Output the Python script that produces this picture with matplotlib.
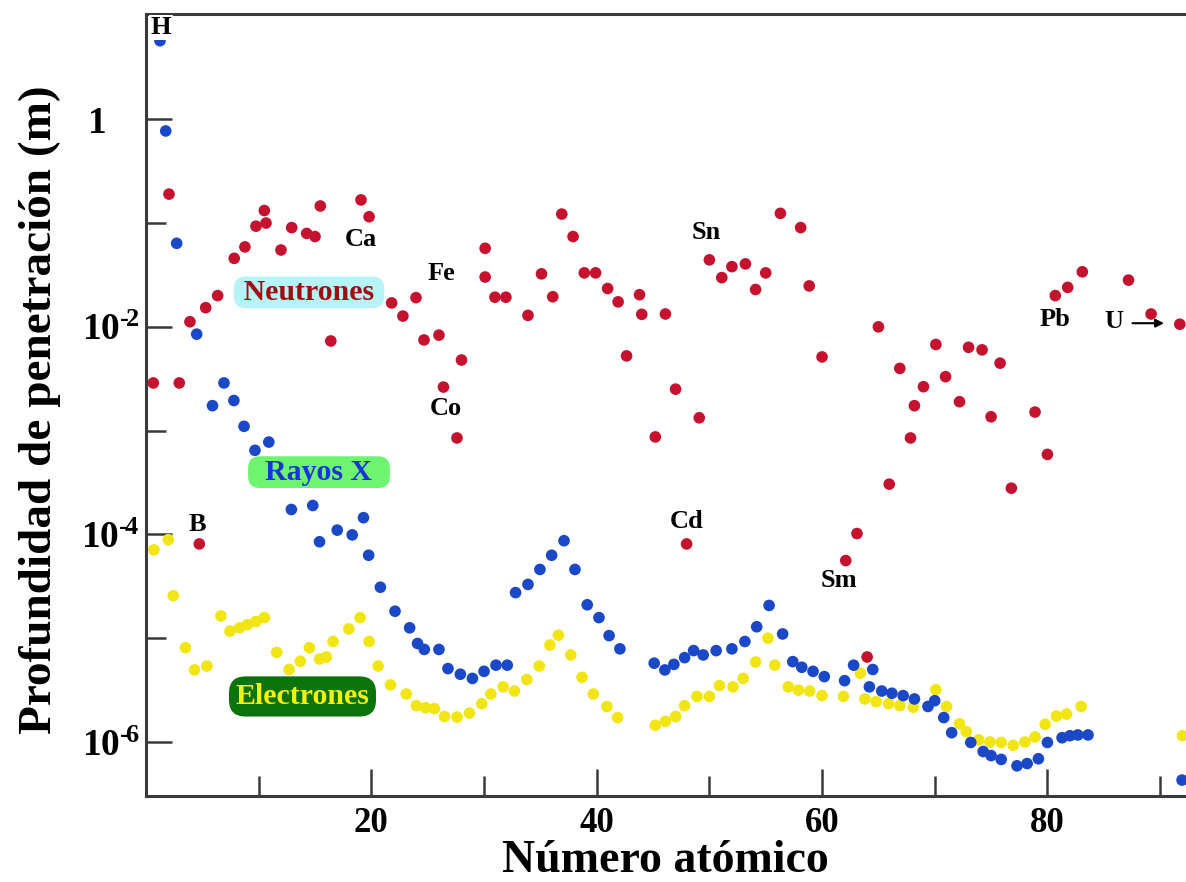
import matplotlib
matplotlib.use("Agg")
import matplotlib.pyplot as plt
from matplotlib.ticker import FixedLocator, NullFormatter
from matplotlib.transforms import ScaledTranslation

plt.rcParams['font.family'] = ['Liberation Serif', 'DejaVu Serif']
plt.rcParams['mathtext.fontset'] = 'custom'
plt.rcParams['mathtext.rm'] = 'Liberation Serif:bold'
plt.rcParams['mathtext.bf'] = 'Liberation Serif:bold'
plt.rcParams['mathtext.it'] = 'Liberation Serif:bold:italic'

# --- Neutrons: atomic number vs penetration depth (m)
neutron_z = [0.65, 2.04, 2.95, 3.9, 4.73, 5.3, 6.36, 7.83, 8.78, 9.76, 10.5, 10.65,
             11.98, 12.93, 14.26, 15.0, 15.47, 16.4, 19.08, 19.8, 21.8, 22.8, 23.96,
             24.67, 26.0, 26.4, 27.6, 28.0, 30.1, 30.1, 30.97, 31.94, 33.9, 35.1,
             36.1, 36.9, 37.9, 38.9, 39.9, 40.97, 41.9, 42.65, 43.8, 44.0, 45.2,
             46.1, 47.0, 47.98, 49.1, 50.0, 51.1, 52.0, 53.2, 54.1, 55.0, 56.3,
             58.1, 58.86, 60.0, 62.1, 63.1, 64.0, 65.0, 65.96, 66.9, 67.85, 68.2,
             69.0, 70.1, 70.96, 72.2, 73.0, 74.2, 75.0, 75.8, 76.8, 78.9, 80.0,
             80.7, 81.8, 83.1, 87.2, 89.2, 91.75]
neutron_depth = [2.88e-3, 0.19, 2.88e-3, 0.0112, 8.1e-5, 0.0153, 0.020, 0.0457,
                 0.0589, 0.0933, 0.132, 0.100, 0.055, 0.0904, 0.0794, 0.0741, 0.146,
                 7.31e-3, 0.167, 0.115, 0.0170, 0.0127, 0.0191, 7.48e-3, 8.32e-3,
                 2.63e-3, 8.5e-4, 4.79e-3, 0.0571, 0.0302, 0.0193, 0.0193, 0.0129,
                 0.0324, 0.0195, 0.122, 0.0741, 0.0331, 0.0331, 0.0234, 0.0174,
                 5.25e-3, 0.0204, 0.0132, 8.7e-4, 0.0133, 2.51e-3, 8.1e-5, 1.33e-3,
                 0.0442, 0.0298, 0.038, 0.0404, 0.0229, 0.0331, 0.124, 0.0904,
                 0.0248, 5.13e-3, 5.6e-5, 1.02e-4, 6.6e-6, 0.010, 3.05e-4, 3.98e-3,
                 8.5e-4, 1.74e-3, 2.65e-3, 6.76e-3, 3.31e-3, 1.9e-3, 6.35e-3, 6.0e-3,
                 1.36e-3, 4.47e-3, 2.79e-4, 1.51e-3, 5.9e-4, 0.020, 0.024, 0.0339,
                 0.0282, 0.0133, 0.0106]

# --- X-rays
xray_z = [1.24, 1.75, 2.72, 4.5, 5.9, 6.92, 7.8, 8.7, 9.67, 10.9, 12.9, 14.8, 15.4,
          16.97, 18.3, 19.3, 19.76, 20.8, 22.1, 23.4, 24.1, 24.7, 26.0, 26.8, 27.9,
          28.97, 30.0, 31.06, 32.06, 32.8, 33.9, 34.96, 36.0, 37.1, 38.07, 39.16,
          40.2, 41.1, 42.06, 45.1, 46.05, 46.85, 47.8, 48.6, 49.45, 50.6, 52.0,
          53.15, 54.2, 55.3, 56.5, 57.4, 58.2, 59.2, 60.2, 62.0, 62.8, 64.2, 64.5,
          65.3, 66.2, 67.2, 68.2, 69.4, 70.0, 70.8, 71.5, 73.2, 74.3, 75.0, 75.9,
          77.3, 78.2, 79.2, 80.0, 81.3, 82.0, 82.7, 83.6, 91.95]
xray_depth = [5.71, 0.771, 0.0638, 8.5e-3, 1.74e-3, 2.88e-3, 1.95e-3, 1.10e-3,
              6.46e-4, 7.76e-4, 1.74e-4, 1.9e-4, 8.5e-5, 1.1e-4, 9.9e-5, 1.45e-4,
              6.3e-5, 3.1e-5, 1.82e-5, 1.26e-5, 8.9e-6, 7.8e-6, 7.8e-6, 5.1e-6,
              4.5e-6, 4.1e-6, 4.8e-6, 5.5e-6, 5.5e-6, 2.75e-5, 3.3e-5, 4.6e-5,
              6.3e-5, 8.7e-5, 4.6e-5, 2.1e-5, 1.58e-5, 1.06e-5, 7.9e-6, 5.75e-6,
              4.95e-6, 5.6e-6, 6.5e-6, 7.6e-6, 6.9e-6, 7.6e-6, 7.9e-6, 9.3e-6,
              1.29e-5, 2.07e-5, 1.1e-5, 5.95e-6, 5.25e-6, 4.8e-6, 4.27e-6, 3.9e-6,
              5.5e-6, 3.4e-6, 5.0e-6, 3.1e-6, 2.95e-6, 2.8e-6, 2.6e-6, 2.2e-6,
              2.5e-6, 1.72e-6, 1.23e-6, 9.9e-7, 8.1e-7, 7.4e-7, 6.8e-7, 5.9e-7,
              6.2e-7, 6.9e-7, 9.9e-7, 1.1e-6, 1.15e-6, 1.17e-6, 1.17e-6, 4.3e-7]

# --- Electrons
electron_z = [0.7, 1.98, 2.42, 3.5, 4.3, 5.4, 6.65, 7.45, 8.3, 9.0, 9.76, 10.5,
              11.6, 12.7, 13.7, 14.5, 15.4, 16.0, 16.6, 18.0, 19.0, 19.8, 20.6,
              21.7, 23.1, 24.0, 24.8, 25.6, 26.5, 27.6, 28.7, 29.8, 30.6, 31.7,
              32.7, 33.8, 34.9, 35.85, 36.6, 37.7, 38.7, 39.7, 40.9, 41.85, 45.2,
              46.1, 47.0, 47.8, 48.9, 50.0, 50.9, 52.1, 53.0, 54.1, 55.2, 55.8,
              57.0, 57.9, 58.9, 60.0, 61.9, 63.4, 63.8, 64.8, 65.9, 66.9, 68.1,
              70.1, 71.05, 72.2, 72.8, 73.9, 74.9, 75.9, 76.96, 78.0, 78.9, 79.8,
              80.8, 81.7, 83.0, 91.99]
electron_depth = [7.1e-5, 8.9e-5, 2.57e-5, 8.1e-6, 4.95e-6, 5.4e-6, 1.64e-5,
                  1.17e-5, 1.26e-5, 1.35e-5, 1.45e-5, 1.58e-5, 7.3e-6, 5.0e-6,
                  6.0e-6, 8.1e-6, 6.3e-6, 6.6e-6, 9.3e-6, 1.23e-5, 1.58e-5, 9.3e-6,
                  5.4e-6, 3.55e-6, 2.9e-6, 2.24e-6, 2.14e-6, 2.1e-6, 1.76e-6,
                  1.74e-6, 1.9e-6, 2.34e-6, 2.9e-6, 3.4e-6, 3.1e-6, 4.0e-6, 5.4e-6,
                  8.6e-6, 1.07e-5, 6.9e-6, 4.2e-6, 2.9e-6, 2.2e-6, 1.72e-6, 1.45e-6,
                  1.58e-6, 1.76e-6, 2.24e-6, 2.75e-6, 2.75e-6, 3.5e-6, 3.4e-6,
                  4.1e-6, 5.9e-6, 1.0e-5, 5.5e-6, 3.4e-6, 3.16e-6, 3.1e-6, 2.8e-6,
                  2.75e-6, 4.6e-6, 2.6e-6, 2.45e-6, 2.34e-6, 2.24e-6, 2.16e-6,
                  3.2e-6, 2.2e-6, 1.5e-6, 1.26e-6, 1.05e-6, 1.0e-6, 9.9e-7, 9.3e-7,
                  1.0e-6, 1.12e-6, 1.48e-6, 1.78e-6, 1.86e-6, 2.2e-6, 1.15e-6]

# --- Element annotations (symbol, Z position, baseline depth)
element_labels = ['H', 'Ca', 'Fe', 'Co', 'B', 'Cd', 'Sn', 'Sm', 'Pb', 'U']
element_z = [1.33, 19.08, 26.2, 26.6, 4.6, 47.96, 49.7, 61.46, 80.7, 85.9]
element_depth = [6.64, 0.060, 0.0283, 1.40e-3, 1.09e-4, 1.15e-4, 0.0698, 3.10e-5,
                 0.0103, 9.7e-3]

x_ticks_major = [20, 40, 60, 80]
x_ticks_minor = [10, 30, 50, 70, 90]
y_ticks_major = [1, 1e-2, 1e-4, 1e-6]
y_tick_labels = ['1', '$10^{\u2010\\!2}$', '$10^{\u2010\\!4}$', '$10^{\u2010\\!6}$']
y_ticks_minor = [1e-1, 1e-3, 1e-5]

fig = plt.figure(figsize=(11.86, 8.82), dpi=100)
ax = fig.add_axes([146 / 1186, 1 - 796 / 882, 1 - 146 / 1186, (796 - 14) / 882])

ms = 70
ax.scatter(electron_z, electron_depth, s=ms, color='#f1e614', edgecolors='none', zorder=3)
ax.scatter(xray_z, xray_depth, s=ms, color='#1a48c6', edgecolors='none', zorder=4)
ax.scatter(neutron_z, neutron_depth, s=ms, color='#c5122f', edgecolors='none', zorder=5)

ax.set_yscale('log')
ax.set_xlim(0, 92.3)
ax.set_ylim(10 ** -6.52, 10 ** 1.014)

ax.xaxis.set_major_locator(FixedLocator(x_ticks_major))
ax.xaxis.set_minor_locator(FixedLocator(x_ticks_minor))
ax.xaxis.set_minor_formatter(NullFormatter())
ax.set_xticklabels([str(v) for v in x_ticks_major])
ax.yaxis.set_major_locator(FixedLocator(y_ticks_major))
ax.set_yticklabels(y_tick_labels)
ax.yaxis.set_minor_locator(FixedLocator(y_ticks_minor))
ax.yaxis.set_minor_formatter(NullFormatter())

spine_col = '#3a3a3a'
for side in ['left', 'bottom', 'top']:
    ax.spines[side].set_color(spine_col)
    ax.spines[side].set_linewidth(2.2)
ax.spines['right'].set_visible(False)

ax.tick_params(axis='both', which='both', direction='in', color=spine_col, width=1.8,
               top=False, right=False)
ax.tick_params(axis='x', which='major', length=19.5, pad=8, labelsize=25)
ax.tick_params(axis='x', which='minor', length=14.4)
ax.tick_params(axis='y', which='major', length=18.7, pad=5, labelsize=27)
ax.tick_params(axis='y', which='minor', length=14.4)
for lab in ax.get_xticklabels() + ax.get_yticklabels():
    lab.set_fontweight('bold')

# the plain "1" sits further left than the powers of ten
one_label = ax.get_yticklabels()[0]
one_label.set_transform(one_label.get_transform()
                        + ScaledTranslation(-0.32, 0, fig.dpi_scale_trans))

# element symbols
for sym, zx, dy in zip(element_labels, element_z, element_depth):
    ax.text(zx, dy, sym, fontsize=19, fontweight='bold', ha='center', va='baseline',
            zorder=6, bbox=dict(fc='white', ec='none', pad=1.0))
ax.annotate('', xy=(90.6, 0.01084), xytext=(87.3, 0.01084),
            arrowprops=dict(arrowstyle='-|>', color='black', lw=1.5, mutation_scale=12),
            zorder=6)

# series tags
ax.text(14.47, 10 ** -1.668, ' Neutrones ', fontsize=21.5, fontweight='bold',
        color='#a00d10', ha='center', va='center', zorder=7,
        bbox=dict(boxstyle='round,pad=0.08,rounding_size=0.4', fc='#b7f4f7', ec='none'))
ax.text(15.35, 10 ** -3.40, '  Rayos X  ', fontsize=21.5, fontweight='bold',
        color='#1b33dd', ha='center', va='center', zorder=7,
        bbox=dict(boxstyle='round,pad=0.08,rounding_size=0.4', fc='#6ff46f', ec='none'))
ax.text(13.89, 10 ** -5.561, 'Electrones', fontsize=21.5, fontweight='bold',
        color='#f5f00c', ha='center', va='center', zorder=7,
        bbox=dict(boxstyle='round,pad=0.22,rounding_size=0.55', fc='#0a730a', ec='none'))

fig.text(40 / 1186, 1 - 410 / 882, 'Profundidad de penetración (m)', rotation=90,
         fontsize=34, fontweight='bold', ha='center', va='center')
fig.text(665 / 1186, 1 - 871.5 / 882, 'Número atómico', fontsize=33, fontweight='bold',
         ha='center', va='baseline')

fig.savefig('out.png', dpi=100)
